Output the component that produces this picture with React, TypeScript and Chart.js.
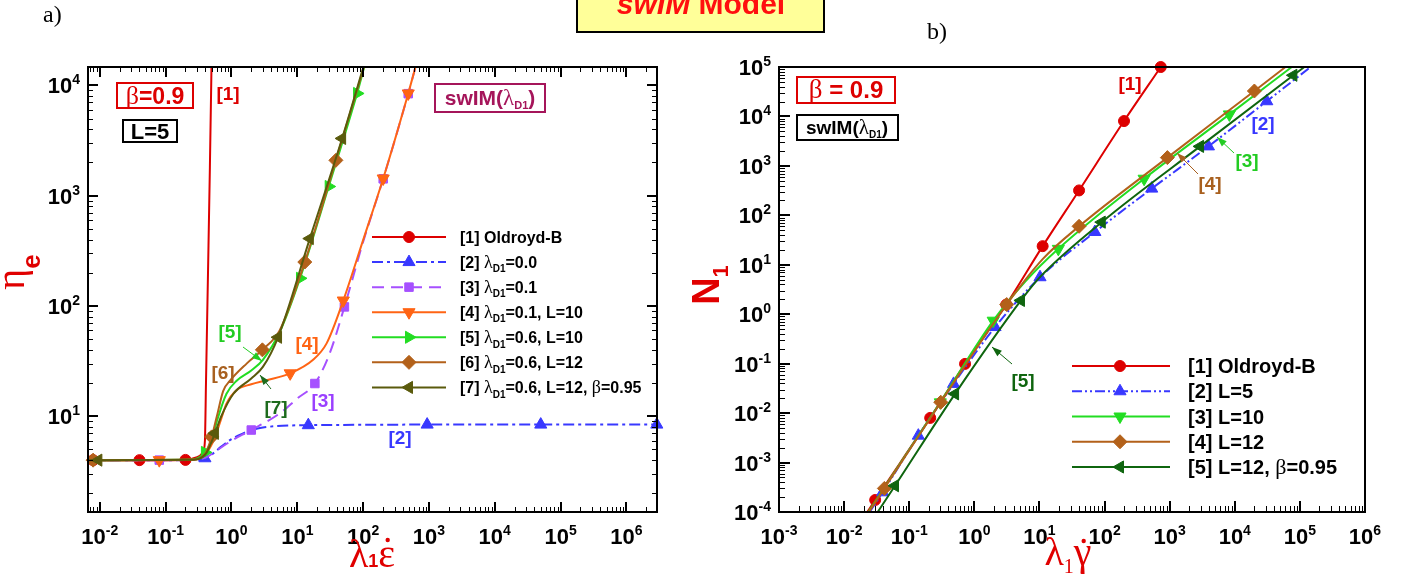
import React, { useEffect, useRef } from "react";
import { Chart, registerables } from "chart.js";

Chart.register(...registerables);

// ================= Panel a) : eta_e versus lambda1 * eps-dot =================
const aXRange = [0.00661, 2.92e6];
const aYRange = [1.355, 14660];
const aXTickExps = [-2, -1, 0, 1, 2, 3, 4, 5, 6];
const aYTickExps = [1, 2, 3, 4];

// [1] Oldroyd-B
const a1X = [0.0066, 0.0079, 0.04, 0.2, 0.3, 0.37, 0.395, 0.41, 0.44, 0.47, 0.497];
const a1Y = [4.0, 4.0, 4.0, 4.02, 4.25, 4.7, 6.0, 20, 200, 1800, 14660];
const a1Marks = [1, 2, 3];
// [2] lambdaD1 = 0.0
const a2X = [0.0066, 0.1, 0.25, 0.395, 0.5, 0.7, 1, 1.5, 2, 3, 5, 8, 14.7, 50, 940, 50000, 2.9e6];
const a2Y = [4.0, 4.0, 4.02, 4.16, 4.5, 5.3, 6.2, 7.0, 7.5, 7.9, 8.15, 8.25, 8.3, 8.35, 8.4, 8.4, 8.4];
const a2Marks = [3, 12, 14, 15, 16];
// [3] lambdaD1 = 0.1
const a3X = [0.0066, 0.08, 0.25, 0.4, 0.6, 1, 2, 5.4, 10, 18.5, 31, 52, 100, 202, 485, 625];
const a3Y = [4.0, 4.0, 4.02, 4.2, 4.9, 6.0, 7.5, 10.6, 14.5, 19.8, 37, 98, 380, 1420, 8400, 14660];
const a3Marks = [1, 6, 9, 11, 13, 14];
// [4] lambdaD1 = 0.1, L = 10
const a4X = [0.0066, 0.08, 0.25, 0.4, 0.52, 0.59, 0.7, 0.84, 1.19, 2, 3.4, 7.8, 17.4, 27.9, 50, 100, 202, 485, 625];
const a4Y = [4.0, 4.0, 4.03, 4.5, 5.8, 7.0, 9.5, 13, 17.2, 19.5, 21.2, 24.5, 32.5, 45.8, 112, 395, 1430, 8440, 14660];
const a4Marks = [1, 11, 14, 16, 17];
// [5] lambdaD1 = 0.6, L = 10
const a5X = [0.0066, 0.25, 0.395, 0.5, 0.6, 0.84, 1.2, 2, 3.0, 5.4, 11, 30, 81, 104];
const a5Y = [4.0, 4.05, 4.7, 6.0, 9.0, 16, 21, 26, 32.5, 58, 178, 1210, 8440, 14660];
const a5Marks = [2, 10, 11, 12];
// [6] lambdaD1 = 0.6, L = 12
const a6X = [0.0066, 0.0079, 0.25, 0.4, 0.5, 0.6, 0.75, 0.95, 1.7, 2.95, 5.4, 13, 38.6, 103];
const a6Y = [4.0, 4.0, 4.05, 4.6, 6.5, 10, 17, 21, 30, 40, 60, 250, 2090, 14660];
const a6Marks = [1, 4, 9, 11, 12];
// [7] lambdaD1 = 0.6, L = 12, beta = 0.95
const a7X = [0.0066, 0.0095, 0.25, 0.4, 0.56, 0.7, 1.07, 2, 3.0, 5.1, 15.5, 48, 101];
const a7Y = [4.0, 4.0, 4.04, 4.5, 7.0, 10, 16, 22, 28, 52, 408, 3300, 14660];
const a7Marks = [1, 4, 9, 10, 11];

const aLegend = [
  ["[1] Oldroyd-B"],
  ["[2] λ", "_D1", "=0.0"],
  ["[3] λ", "_D1", "=0.1"],
  ["[4] λ", "_D1", "=0.1, L=10"],
  ["[5] λ", "_D1", "=0.6, L=10"],
  ["[6] λ", "_D1", "=0.6, L=12"],
  ["[7] λ", "_D1", "=0.6, L=12, β=0.95"],
];

// ================= Panel b) : N1 versus lambda1 * gamma-dot =================
const bXRange = [1e-3, 1e6];
const bYRange = [1e-4, 1e5];
const bXTickExps = [-3, -2, -1, 0, 1, 2, 3, 4, 5, 6];
const bYTickExps = [-4, -3, -2, -1, 0, 1, 2, 3, 4, 5];

// [1] Oldroyd-B
const b1X = [0.0227, 0.03, 0.21, 0.72, 3.1, 11.2, 40.6, 199, 730];
const b1Y = [1e-4, 1.75e-4, 0.008, 0.099, 1.57, 23.8, 319, 8070, 1e5];
const b1Marks = [1, 2, 3, 4, 5, 6, 7, 8];
// [2] L = 5
const b2X = [0.0247, 0.039, 0.138, 0.48, 2.08, 10.2, 71, 530, 3940, 31000, 146000];
const b2Y = [1e-4, 2.5e-4, 3.5e-3, 0.039, 0.55, 5.6, 46, 347, 2480, 20300, 1e5];
const b2Marks = [1, 2, 3, 4, 5, 6, 7, 8, 9];
// [3] L = 10
const b3X = [0.0235, 0.3, 1.95, 6, 19.5, 405, 8260, 75000];
const b3Y = [1e-4, 0.0165, 0.74, 4.5, 21, 550, 11000, 1e5];
const b3Marks = [1, 2, 4, 5, 6];
// [4] L = 12
const b4X = [0.024, 0.0415, 0.305, 3.14, 11.2, 40.6, 922, 20000, 60000];
const b4Y = [1e-4, 3.0e-4, 0.0166, 1.57, 13, 60, 1470, 32700, 1e5];
const b4Marks = [1, 2, 3, 5, 6, 7];
// [5] L = 12, beta = 0.95
const b5X = [0.0328, 0.0605, 0.506, 5.2, 10, 90.6, 2930, 79400, 117000];
const b5Y = [1e-4, 3.4e-4, 0.0245, 1.9, 5.5, 72.8, 2480, 68000, 1e5];
const b5Marks = [1, 2, 3, 5, 6, 7];

const bLegend = [
  ["[1] Oldroyd-B"],
  ["[2] L=5"],
  ["[3] L=10"],
  ["[4] L=12"],
  ["[5] L=12, β=0.95"],
];

// ================= styles =================
const SANS = '"Liberation Sans", Arial, Helvetica, sans-serif';
const SERIF = '"Liberation Serif", "Times New Roman", Times, serif';
const B = (n: number) => `bold ${n}px ${SANS}`;
const SF = (n: number) => `${n}px ${SERIF}`;
const RED = "#e00000";

type Sty = { color: string; dash: number[]; style: string; rot: number; r: number };
const aStyles: Sty[] = [
  { color: "#dd0000", dash: [], style: "circle", rot: 0, r: 5.5 },
  { color: "#3838ff", dash: [11, 4, 3, 4], style: "triangle", rot: 0, r: 7 },
  { color: "#a650ff", dash: [12, 7], style: "rect", rot: 0, r: 6 },
  { color: "#ff6414", dash: [], style: "triangle", rot: 180, r: 7 },
  { color: "#22dd22", dash: [], style: "triangle", rot: 90, r: 7 },
  { color: "#b3611a", dash: [], style: "rectRot", rot: 0, r: 7 },
  { color: "#5a5a0c", dash: [], style: "triangle", rot: 270, r: 7 },
];
const bStyles: Sty[] = [
  { color: "#dd0000", dash: [], style: "circle", rot: 0, r: 5.5 },
  { color: "#3838ff", dash: [10, 3, 2, 3, 2, 3], style: "triangle", rot: 0, r: 7 },
  { color: "#22dd22", dash: [], style: "triangle", rot: 180, r: 7 },
  { color: "#b3611a", dash: [], style: "rectRot", rot: 0, r: 7 },
  { color: "#0f650f", dash: [], style: "triangle", rot: 270, r: 7 },
];

type Seg = { t: string; f: string; dy: number };

function rich(parts: string[], size: number): Seg[] {
  const out: Seg[] = [];
  for (const p of parts) {
    if (p.startsWith("_")) {
      out.push({ t: p.slice(1), f: B(Math.round(size * 0.6)), dy: size * 0.28 });
      continue;
    }
    let buf = "";
    for (const ch of p) {
      if (/[λβηεγ]/.test(ch)) {
        if (buf) out.push({ t: buf, f: B(size), dy: 0 });
        buf = "";
        out.push({ t: ch, f: SF(Math.round(size * 1.12)), dy: 0 });
      } else buf += ch;
    }
    if (buf) out.push({ t: buf, f: B(size), dy: 0 });
  }
  return out;
}

function drawRich(ctx: CanvasRenderingContext2D, segs: Seg[], x: number, y: number, align: string, color: string) {
  const widths = segs.map((s) => {
    ctx.font = s.f;
    return ctx.measureText(s.t).width;
  });
  const total = widths.reduce((a, b) => a + b, 0);
  let cx = align === "center" ? x - total / 2 : align === "right" ? x - total : x;
  ctx.fillStyle = color;
  ctx.textAlign = "left";
  ctx.textBaseline = "alphabetic";
  const pos: number[] = [];
  segs.forEach((s, i) => {
    ctx.font = s.f;
    pos.push(cx);
    ctx.fillText(s.t, cx, y + s.dy);
    cx += widths[i];
  });
  return { pos, widths };
}

function drawMarker(ctx: CanvasRenderingContext2D, st: Sty, x: number, y: number) {
  ctx.save();
  ctx.translate(x, y);
  ctx.rotate((st.rot * Math.PI) / 180);
  ctx.fillStyle = st.color;
  ctx.strokeStyle = st.color;
  ctx.lineWidth = 1;
  ctx.setLineDash([]);
  ctx.beginPath();
  const r = st.r;
  if (st.style === "circle") ctx.arc(0, 0, r, 0, Math.PI * 2);
  else if (st.style === "triangle") {
    for (let k = 0; k < 3; k++) {
      const a = (k * 2 * Math.PI) / 3;
      const px = Math.sin(a) * r;
      const py = -Math.cos(a) * r;
      if (k) ctx.lineTo(px, py);
      else ctx.moveTo(px, py);
    }
    ctx.closePath();
  } else if (st.style === "rectRot") {
    ctx.moveTo(0, -r);
    ctx.lineTo(r, 0);
    ctx.lineTo(0, r);
    ctx.lineTo(-r, 0);
    ctx.closePath();
  } else {
    const h = r * Math.SQRT1_2;
    ctx.rect(-h, -h, 2 * h, 2 * h);
  }
  ctx.fill();
  ctx.stroke();
  ctx.restore();
}

function drawTicks(ctx: CanvasRenderingContext2D, scale: any, area: any, sides: string[], major: number, minor: number) {
  const mn = scale.min;
  const mx = scale.max;
  const horiz = scale.isHorizontal();
  ctx.strokeStyle = "#000";
  for (let k = Math.floor(Math.log10(mn)); k <= Math.ceil(Math.log10(mx)); k++) {
    for (let m = 1; m <= 9; m++) {
      const v = m * Math.pow(10, k);
      if (v < mn * (1 - 1e-9) || v > mx * (1 + 1e-9)) continue;
      const len = m === 1 ? major : minor;
      ctx.lineWidth = m === 1 ? 2 : 1;
      const p = Math.round(scale.getPixelForValue(v)) + (m === 1 ? 0 : 0.5);
      ctx.beginPath();
      for (const s of sides) {
        if (horiz && s === "bottom") { ctx.moveTo(p, area.bottom); ctx.lineTo(p, area.bottom - len); }
        if (horiz && s === "top") { ctx.moveTo(p, area.top); ctx.lineTo(p, area.top + len); }
        if (!horiz && s === "left") { ctx.moveTo(area.left, p); ctx.lineTo(area.left + len, p); }
        if (!horiz && s === "right") { ctx.moveTo(area.right, p); ctx.lineTo(area.right - len, p); }
      }
      ctx.stroke();
    }
  }
}

function powLabel(ctx: CanvasRenderingContext2D, e: number, x: number, y: number, align: string) {
  const segs: Seg[] = [
    { t: "10", f: B(22), dy: 0 },
    { t: String(e), f: B(14), dy: -9 },
  ];
  drawRich(ctx, segs, x, y, align, "#000");
}

function drawFrameAndLabels(chart: any, xExps: number[], yExps: number[], allSides: boolean, major: number, minor: number) {
  const ctx = chart.ctx as CanvasRenderingContext2D;
  const a = chart.chartArea;
  const xs = chart.scales.x;
  const ys = chart.scales.y;
  drawTicks(ctx, xs, a, allSides ? ["bottom", "top"] : ["bottom"], major, minor);
  drawTicks(ctx, ys, a, allSides ? ["left", "right"] : ["left"], major, minor);
  ctx.strokeStyle = "#000";
  ctx.lineWidth = 2;
  ctx.setLineDash([]);
  ctx.strokeRect(a.left, a.top, a.right - a.left, a.bottom - a.top);
  for (const e of xExps) powLabel(ctx, e, xs.getPixelForValue(Math.pow(10, e)), a.bottom + 32, "center");
  for (const e of yExps) powLabel(ctx, e, a.left - 8, ys.getPixelForValue(Math.pow(10, e)) + 8, "right");
}

function drawLegend(ctx: CanvasRenderingContext2D, labels: string[][], styles: Sty[], x0: number, x1: number, xm: number, xt: number, y0: number, dy: number, size: number) {
  labels.forEach((lab, i) => {
    const st = styles[i];
    const y = y0 + i * dy;
    ctx.strokeStyle = st.color;
    ctx.lineWidth = 2;
    ctx.setLineDash(st.dash);
    ctx.beginPath();
    ctx.moveTo(x0, y);
    ctx.lineTo(x1, y);
    ctx.stroke();
    ctx.setLineDash([]);
    drawMarker(ctx, st, xm, y);
    drawRich(ctx, rich(lab, size), xt, y + size * 0.36, "left", "#000");
  });
}

function arrow(ctx: CanvasRenderingContext2D, x1: number, y1: number, x2: number, y2: number, color: string) {
  ctx.strokeStyle = color;
  ctx.fillStyle = color;
  ctx.lineWidth = 1;
  ctx.setLineDash([]);
  ctx.beginPath();
  ctx.moveTo(x1, y1);
  ctx.lineTo(x2, y2);
  ctx.stroke();
  const ang = Math.atan2(y2 - y1, x2 - x1);
  const h = 10;
  const w = 3.5;
  ctx.beginPath();
  ctx.moveTo(x2, y2);
  ctx.lineTo(x2 - h * Math.cos(ang) + w * Math.sin(ang), y2 - h * Math.sin(ang) - w * Math.cos(ang));
  ctx.lineTo(x2 - h * Math.cos(ang) - w * Math.sin(ang), y2 - h * Math.sin(ang) + w * Math.cos(ang));
  ctx.closePath();
  ctx.fill();
}

function box(ctx: CanvasRenderingContext2D, x: number, y: number, w: number, h: number, color: string) {
  ctx.strokeStyle = color;
  ctx.lineWidth = 2;
  ctx.setLineDash([]);
  ctx.strokeRect(x, y, w, h);
}

const leftDecor = {
  id: "leftDecor",
  afterDraw(chart: any) {
    const ctx = chart.ctx as CanvasRenderingContext2D;
    ctx.save();
    // page elements
    drawRich(ctx, [{ t: "a)", f: SF(24), dy: 0 }], 43, 22, "left", "#000");
    drawRich(ctx, [{ t: "b)", f: SF(24), dy: 0 }], 927, 39, "left", "#000");
    ctx.fillStyle = "#ffff99";
    ctx.fillRect(577, -4, 247, 36);
    box(ctx, 577, -4, 247, 36, "#000");
    drawRich(ctx, [
      { t: "swIM", f: `italic bold 30px ${SANS}`, dy: 0 },
      { t: " Model", f: B(30), dy: 0 },
    ], 701, 14, "center", "#ff0f0f");

    drawFrameAndLabels(chart, aXTickExps, aYTickExps, true, 10, 5);

    // axis titles
    ctx.save();
    ctx.translate(24, 272);
    ctx.rotate(-Math.PI / 2);
    drawRich(ctx, [{ t: "η", f: SF(40), dy: 0 }, { t: "e", f: B(26), dy: 16 }], 0, 0, "center", RED);
    ctx.restore();
    const r = drawRich(ctx, [
      { t: "λ", f: SF(40), dy: 0 },
      { t: "1", f: B(18), dy: 0 },
      { t: "ε", f: SF(40), dy: 0 },
    ], 372, 567, "center", RED);
    ctx.beginPath();
    ctx.arc(r.pos[2] + r.widths[2] / 2 + 1, 540, 2.2, 0, Math.PI * 2);
    ctx.fill();

    // info boxes
    box(ctx, 117, 83, 76, 25, "#dd0000");
    drawRich(ctx, [{ t: "β", f: SF(26), dy: 0 }, { t: "=0.9", f: B(23), dy: 0 }], 155, 104, "center", "#dd0000");
    box(ctx, 123, 120, 54, 22, "#000");
    drawRich(ctx, [{ t: "L=5", f: B(22), dy: 0 }], 150, 139, "center", "#000");
    box(ctx, 435, 84, 110, 28, "#a5155a");
    drawRich(ctx, [
      { t: "swIM(", f: B(21), dy: 0 },
      { t: "λ", f: SF(23), dy: 0 },
      { t: "D1", f: B(11), dy: 4 },
      { t: ")", f: B(21), dy: 0 },
    ], 490, 105, "center", "#a5155a");

    // curve labels
    const lab = (t: string, x: number, y: number, c: string) => drawRich(ctx, [{ t, f: B(19), dy: 0 }], x, y, "center", c);
    lab("[1]", 228, 100, "#dd0000");
    lab("[5]", 230, 338, "#22cc22");
    arrow(ctx, 243, 347, 262, 361, "#22cc22");
    lab("[6]", 223, 379, "#a8601f");
    lab("[7]", 276, 414, "#1d6b1d");
    arrow(ctx, 271, 389, 260, 375, "#1d6b1d");
    lab("[4]", 307, 350, "#ff6414");
    lab("[3]", 323, 407, "#9a40ff");
    lab("[2]", 400, 444, "#3838ff");

    drawLegend(ctx, aLegend, aStyles, 372, 446, 409, 460, 237, 25.07, 16);
    ctx.restore();
  },
};

const rightDecor = {
  id: "rightDecor",
  afterDraw(chart: any) {
    const ctx = chart.ctx as CanvasRenderingContext2D;
    ctx.save();
    drawFrameAndLabels(chart, bXTickExps, bYTickExps, false, 11, 6);

    ctx.save();
    ctx.translate(719, 285);
    ctx.rotate(-Math.PI / 2);
    drawRich(ctx, [{ t: "N", f: B(38), dy: 0 }, { t: "1", f: B(22), dy: 9 }], 0, 0, "center", RED);
    ctx.restore();
    const r = drawRich(ctx, [
      { t: "λ", f: SF(40), dy: 0 },
      { t: "1", f: SF(20), dy: 8 },
      { t: "γ", f: SF(40), dy: 0 },
    ], 1068, 565, "center", RED);
    ctx.beginPath();
    ctx.arc(r.pos[2] + r.widths[2] / 2 + 1, 541, 2.2, 0, Math.PI * 2);
    ctx.fill();

    box(ctx, 797, 77, 98, 26, "#dd0000");
    drawRich(ctx, [{ t: "β", f: SF(27), dy: 0 }, { t: " = 0.9", f: B(24), dy: 0 }], 846, 98, "center", "#dd0000");
    box(ctx, 797, 115, 101, 25, "#000");
    drawRich(ctx, [
      { t: "swIM(", f: B(19), dy: 0 },
      { t: "λ", f: SF(21), dy: 0 },
      { t: "D1", f: B(10), dy: 4 },
      { t: ")", f: B(19), dy: 0 },
    ], 847, 134, "center", "#000");

    const lab = (t: string, x: number, y: number, c: string) => drawRich(ctx, [{ t, f: B(19), dy: 0 }], x, y, "center", c);
    lab("[1]", 1130, 90, "#dd0000");
    lab("[2]", 1263, 130, "#3838ff");
    lab("[3]", 1247, 167, "#22cc22");
    arrow(ctx, 1234, 153, 1217, 137, "#22cc22");
    lab("[4]", 1210, 190, "#a8601f");
    arrow(ctx, 1198, 174, 1177, 153, "#a8601f");
    lab("[5]", 1023, 387, "#0f650f");
    arrow(ctx, 1012, 364, 992, 347, "#0f650f");

    drawLegend(ctx, bLegend, bStyles, 1072, 1170, 1120, 1188, 366, 25.25, 20);
    ctx.restore();
  },
};

function makeDatasets(xsList: number[][], ysList: number[][], marksList: number[][], styles: Sty[]) {
  const n = xsList.length;
  return xsList.map((xs, i) => {
    const st = styles[i];
    const marks = marksList[i];
    return {
      data: xs.map((x, j) => ({ x, y: ysList[i][j] })),
      borderColor: st.color,
      backgroundColor: st.color,
      borderWidth: 2,
      borderDash: st.dash,
      pointStyle: st.style,
      pointRotation: st.rot,
      pointRadius: (c: any) => (marks.includes(c.dataIndex) ? st.r : 0),
      pointHoverRadius: 0,
      pointBackgroundColor: st.color,
      pointBorderColor: st.color,
      pointBorderWidth: 1,
      cubicInterpolationMode: "monotone",
      fill: false,
      clip: false,
      order: n - i,
    };
  });
}

function makeConfig(datasets: any[], xr: number[], yr: number[], padding: any, plugin: any): any {
  return {
    type: "line",
    data: { datasets },
    options: {
      animation: false,
      responsive: false,
      devicePixelRatio: 1,
      events: [],
      layout: { padding },
      plugins: { legend: { display: false }, tooltip: { enabled: false }, title: { display: false } },
      scales: {
        x: { type: "logarithmic", min: xr[0], max: xr[1], display: false },
        y: { type: "logarithmic", min: yr[0], max: yr[1], display: false },
      },
    },
    plugins: [plugin],
  };
}

export default function App() {
  const leftRef = useRef<HTMLCanvasElement>(null);
  const rightRef = useRef<HTMLCanvasElement>(null);

  useEffect(() => {
    const left = new Chart(
      leftRef.current as HTMLCanvasElement,
      makeConfig(
        makeDatasets(
          [a1X, a2X, a3X, a4X, a5X, a6X, a7X],
          [a1Y, a2Y, a3Y, a4Y, a5Y, a6Y, a7Y],
          [a1Marks, a2Marks, a3Marks, a4Marks, a5Marks, a6Marks, a7Marks],
          aStyles
        ),
        aXRange,
        aYRange,
        { left: 88, top: 67, right: 1401 - 657, bottom: 580 - 512 },
        leftDecor
      )
    );
    const right = new Chart(
      rightRef.current as HTMLCanvasElement,
      makeConfig(
        makeDatasets(
          [b1X, b2X, b3X, b4X, b5X],
          [b1Y, b2Y, b3Y, b4Y, b5Y],
          [b1Marks, b2Marks, b3Marks, b4Marks, b5Marks],
          bStyles
        ),
        bXRange,
        bYRange,
        { left: 779, top: 67, right: 1401 - 1365, bottom: 580 - 512 },
        rightDecor
      )
    );
    return () => {
      left.destroy();
      right.destroy();
    };
  }, []);

  const cs: React.CSSProperties = { position: "absolute", left: 0, top: 0, width: 1401, height: 580 };
  return (
    <div style={{ position: "absolute", left: 0, top: 0, width: 1401, height: 580, background: "#fff", overflow: "hidden" }}>
      <canvas ref={leftRef} width={1401} height={580} style={cs} />
      <canvas ref={rightRef} width={1401} height={580} style={cs} />
    </div>
  );
}
